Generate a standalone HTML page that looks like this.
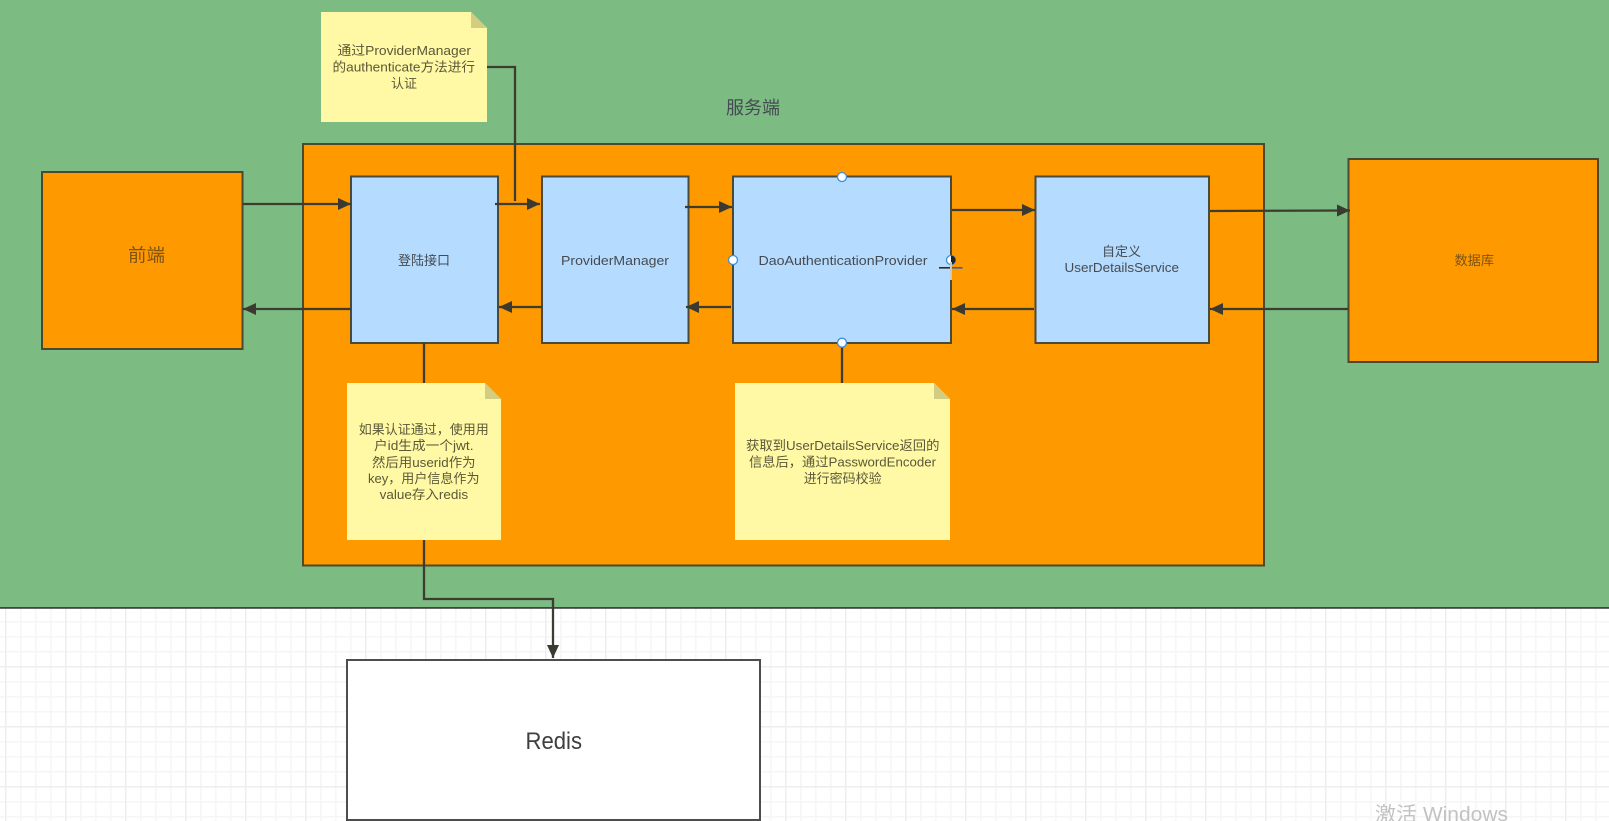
<!DOCTYPE html>
<html><head><meta charset="utf-8"><style>
html,body{margin:0;padding:0;width:1609px;height:821px;overflow:hidden;background:#fff}
svg{display:block}
text{font-family:"Liberation Sans","Noto Sans CJK SC",sans-serif;fill:#454b52;font-size:13px}
.o{fill:#7d5312}
.n{fill:#5a5838}
</style></head><body>
<svg width="1609" height="821" viewBox="0 0 1609 821" xmlns="http://www.w3.org/2000/svg">
<defs>
<pattern id="g1" x="5" y="606" width="15" height="15" patternUnits="userSpaceOnUse"><path d="M15 .75H.75V15" fill="none" stroke="#f6f6f6" stroke-width="1.500"/></pattern>
<pattern id="g2" x="5" y="606" width="60" height="60" patternUnits="userSpaceOnUse"><path d="M60 .75H.75V60" fill="none" stroke="#eeeeee" stroke-width="1.500"/></pattern>
<marker id="a" markerUnits="userSpaceOnUse" markerWidth="14" markerHeight="13" refX="13" refY="6" orient="auto"><path d="M0 0L13 6L0 12Z" fill="#3a3a30"/></marker>
</defs>
<rect x="0" y="606" width="1609" height="215" fill="#fff"/>
<rect x="0" y="606" width="1609" height="215" fill="url(#g1)"/>
<rect x="0" y="606" width="1609" height="215" fill="url(#g2)"/>
<rect x="0" y="0" width="1609" height="607" fill="#7cbb82"/>
<rect x="-2" y="607" width="1613" height="1.8" fill="#3f4540"/>

<rect x="303" y="144" width="961" height="421.500" fill="#ff9900" stroke="#4a4a32" stroke-width="2"/>
<rect x="42" y="172" width="200.500" height="177" fill="#ff9900" stroke="#4a4a32" stroke-width="2"/>
<rect x="1348.500" y="159" width="249.500" height="203" fill="#ff9900" stroke="#4a4a32" stroke-width="2"/>
<rect x="351" y="176.500" width="147" height="166.500" fill="#b5dbfe" stroke="#4a4a3c" stroke-width="2"/>
<rect x="542" y="176.500" width="146.500" height="166.500" fill="#b5dbfe" stroke="#4a4a3c" stroke-width="2"/>
<rect x="733" y="176.500" width="218" height="166.500" fill="#b5dbfe" stroke="#4a4a3c" stroke-width="2"/>
<rect x="1035.500" y="176.500" width="173.500" height="166.500" fill="#b5dbfe" stroke="#4a4a3c" stroke-width="2"/>
<rect x="347" y="660" width="413" height="160" fill="#fff" stroke="#4d4d4d" stroke-width="2"/>

<g fill="none" stroke="#3c3c32" stroke-width="2.300">
<path d="M487 67H515V201"/>
<path d="M424 343V383"/>
<path d="M842 343V383"/>
<path d="M424 540V599H553V658" marker-end="url(#a)"/>
<path d="M243 204H351" marker-end="url(#a)"/>
<path d="M351 309H243" marker-end="url(#a)"/>
<path d="M495 204H540" marker-end="url(#a)"/>
<path d="M542 307H499" marker-end="url(#a)"/>
<path d="M685 207H732" marker-end="url(#a)"/>
<path d="M731 307H686" marker-end="url(#a)"/>
<path d="M952 210H1035" marker-end="url(#a)"/>
<path d="M1034 309H952" marker-end="url(#a)"/>
<path d="M1210 211L1350 210.500" marker-end="url(#a)"/>
<path d="M1348 309H1210" marker-end="url(#a)"/>
</g>

<path d="M321 12H471L487 28V122H321Z" fill="#fff9a5"/><path d="M471 12L487 28H471Z" fill="#d2cd80"/>
<path d="M347 383H485L501 399V540H347Z" fill="#fff9a5"/><path d="M485 383L501 399H485Z" fill="#d2cd80"/>
<path d="M735 383H934L950 399V540H735Z" fill="#fff9a5"/><path d="M934 383L950 399H934Z" fill="#d2cd80"/>

<g fill="#fff" stroke="#3b8ee0" stroke-width="1.300">
<circle cx="842" cy="177" r="4.500"/><circle cx="842" cy="342.700" r="4.500"/><circle cx="733" cy="260" r="4.500"/><circle cx="951" cy="260" r="4.500"/>
</g>
<path d="M951 255.500a4.500 4.500 0 0 1 0 9Z" fill="#222"/>
<rect x="939" y="267" width="12" height="1.600" fill="#2b2b2b"/>
<rect x="951" y="267" width="11.500" height="1.600" fill="#2a64b0"/>
<rect x="950" y="262" width="2" height="18" fill="#c9c9c9"/>

<text x="726" y="114" textLength="54" lengthAdjust="spacingAndGlyphs" style="font-size:18px">服务端</text>
<text x="128" y="261.500" textLength="37" lengthAdjust="spacingAndGlyphs" class="o" style="font-size:18px">前端</text>
<text x="398" y="265" textLength="52" lengthAdjust="spacingAndGlyphs">登陆接口</text>
<text x="561" y="265" textLength="108" lengthAdjust="spacingAndGlyphs">ProviderManager</text>
<text x="758.500" y="265" textLength="169" lengthAdjust="spacingAndGlyphs">DaoAuthenticationProvider</text>
<text x="1102" y="256" textLength="39" lengthAdjust="spacingAndGlyphs">自定义</text>
<text x="1064.500" y="272" textLength="114.500" lengthAdjust="spacingAndGlyphs">UserDetailsService</text>
<text x="1454.500" y="265" textLength="39.500" lengthAdjust="spacingAndGlyphs" class="o">数据库</text>

<text class="n" x="337.500" y="55" textLength="133.500" lengthAdjust="spacingAndGlyphs">通过ProviderManager</text>
<text class="n" x="332.500" y="71.500" textLength="142.500" lengthAdjust="spacingAndGlyphs">的authenticate方法进行</text>
<text class="n" x="391" y="88" textLength="26" lengthAdjust="spacingAndGlyphs">认证</text>

<text class="n" x="358.800" y="434" textLength="130" lengthAdjust="spacingAndGlyphs">如果认证通过，使用用</text>
<text class="n" x="374" y="450" textLength="99.500" lengthAdjust="spacingAndGlyphs">户id生成一个jwt.</text>
<text class="n" x="372" y="467" textLength="103.500" lengthAdjust="spacingAndGlyphs">然后用userid作为</text>
<text class="n" x="368" y="483" textLength="111.500" lengthAdjust="spacingAndGlyphs">key，用户信息作为</text>
<text class="n" x="379.600" y="499" textLength="88.500" lengthAdjust="spacingAndGlyphs">value存入redis</text>

<text class="n" x="746" y="450" textLength="193.500" lengthAdjust="spacingAndGlyphs">获取到UserDetailsService返回的</text>
<text class="n" x="749" y="466.500" textLength="187" lengthAdjust="spacingAndGlyphs">信息后，通过PasswordEncoder</text>
<text class="n" x="803.700" y="483" textLength="78" lengthAdjust="spacingAndGlyphs">进行密码校验</text>

<text x="525.500" y="749" textLength="56.500" lengthAdjust="spacingAndGlyphs" style="font-size:24px;fill:#3f3f3f">Redis</text>
<text x="1375" y="821" textLength="133" lengthAdjust="spacingAndGlyphs" style="font-size:20px;fill:#c2c2c2">激活 Windows</text>
</svg>
</body></html>
